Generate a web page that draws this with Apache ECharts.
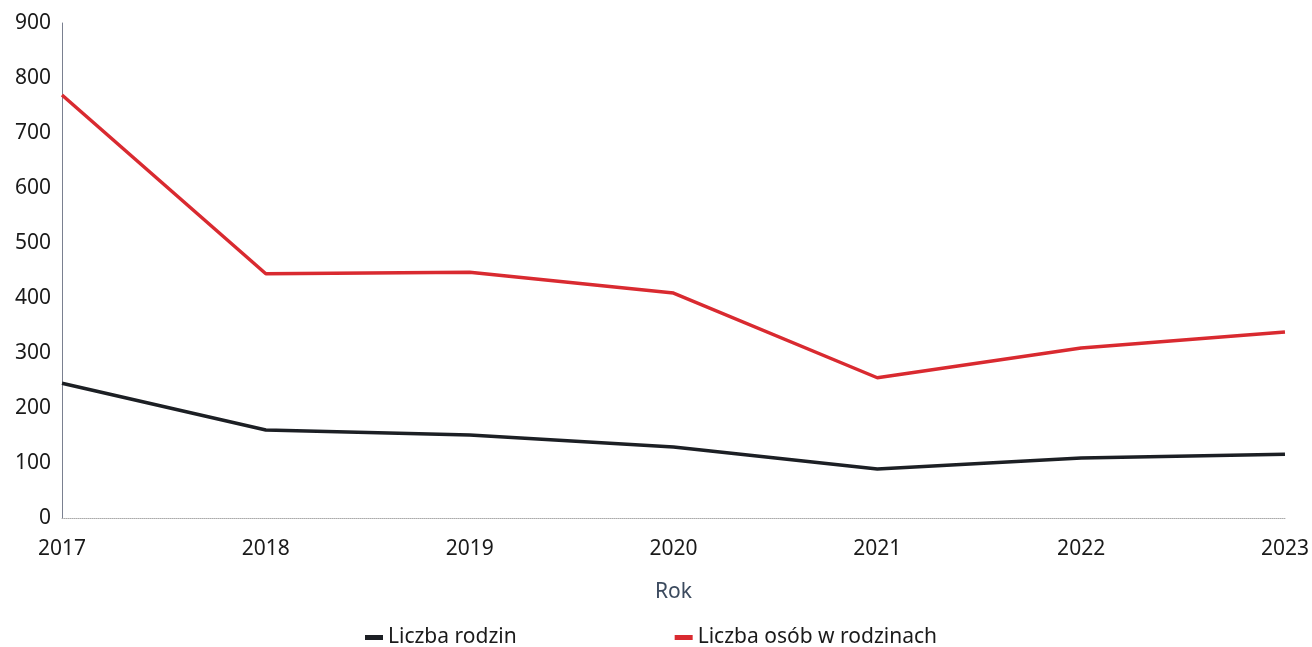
<!DOCTYPE html>
<html><head><meta charset="utf-8">
<script src="https://cdn.jsdelivr.net/npm/echarts@6/dist/echarts.min.js"></script>
<style>html,body{margin:0;padding:0;background:#fff}#c{width:1312px;height:647px}</style>
</head><body><div id="c"></div>
<script>
const years = ['2017','2018','2019','2020','2021','2022','2023'];
const families = [245, 160, 151, 129, 89, 109, 116];
const persons = [769, 444, 447, 409, 255, 309, 338];
const yTicks = [0, 900, 100];

const chart = echarts.init(document.getElementById('c'));
const font = '"Noto Sans", "Open Sans", sans-serif';
chart.setOption({
  animation: false,
  grid: {left: 62, right: 24, top: 23, bottom: 129},
  legend: {
    top: 622, left: 360, itemGap: 158, itemWidth: 18, itemHeight: 5,
    icon: 'rect',
    textStyle: {fontFamily: font, fontSize: 21, color: '#1a1a1a'},
    data: ['Liczba rodzin', 'Liczba osób w rodzinach']
  },
  xAxis: {
    type: 'category', data: years, boundaryGap: false,
    name: 'Rok', nameLocation: 'middle', nameGap: 64,
    nameTextStyle: {fontFamily: font, fontSize: 21, color: '#3b4a5e'},
    axisLine: {lineStyle: {color: '#aaa', type: 'dotted', width: 1}},
    axisTick: {show: false},
    axisLabel: {fontFamily: font, fontSize: 21, color: '#1a1a1a', margin: 21}
  },
  yAxis: {
    type: 'value', min: yTicks[0], max: yTicks[1], interval: yTicks[2],
    axisLine: {show: true, lineStyle: {color: '#7a8090', width: 1}},
    axisTick: {show: false},
    splitLine: {show: false},
    axisLabel: {fontFamily: font, fontSize: 21, color: '#1a1a1a', margin: 11}
  },
  series: [
    {name: 'Liczba rodzin', type: 'line', data: families, symbol: 'none',
     lineStyle: {color: '#1c1f24', width: 3.5}, itemStyle: {color: '#1c1f24'}},
    {name: 'Liczba osób w rodzinach', type: 'line', data: persons, symbol: 'none',
     lineStyle: {color: '#d92a30', width: 3.5}, itemStyle: {color: '#d92a30'}}
  ]
});
</script></body></html>
